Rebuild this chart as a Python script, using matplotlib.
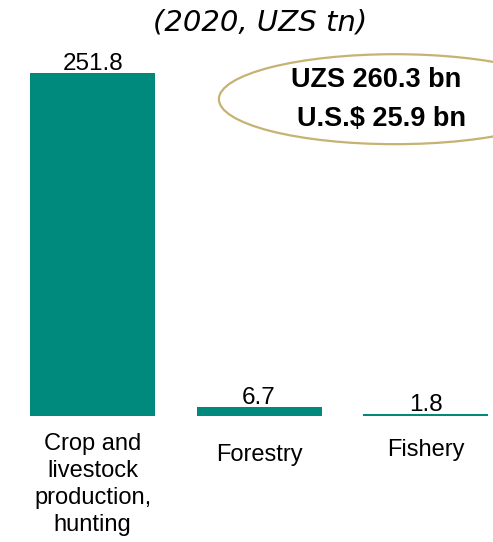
import matplotlib.pyplot as plt
from matplotlib.patches import Ellipse

categories = ["Crop and\nlivestock\nproduction,\nhunting", "Forestry", "Fishery"]
values = [251.8, 6.7, 1.8]
value_labels = ["251.8", "6.7", "1.8"]
title = "(2020, UZS tn)"
total_lines = ["UZS 260.3 bn", "U.S.$ 25.9 bn"]

BAR_COLOR = "#008A7D"
RING_COLOR = "#C6B272"

plt.rcParams["font.family"] = ["Liberation Sans", "DejaVu Sans"]

fig = plt.figure(figsize=(4.93, 5.42), dpi=100)
ax = fig.add_axes([0.0, 0.2325, 1.0, 0.7675])

x = list(range(len(categories)))
bars = ax.bar(x, values, width=0.75, color=BAR_COLOR)
ax.set_xlim(-0.556, 2.405)
ax.set_ylim(0, 305.5)

for bar, lab in zip(bars, value_labels):
    ax.annotate(lab, (bar.get_x() + bar.get_width() / 2, bar.get_height()),
                xytext=(0, 2), textcoords="offset points",
                ha="center", va="baseline", fontsize=17.5, color="black")

ax.set_xticks(x)
ax.set_xticklabels(categories, fontsize=17, linespacing=1.3)
ax.tick_params(axis="x", length=0, pad=12)
ax.set_yticks([])
for side in ax.spines.values():
    side.set_visible(False)

# small vertical shifts so single-line labels sit a bit lower
for lbl, dy in zip(ax.get_xticklabels(), [0.0, -0.028, -0.016]):
    lbl.set_y(dy)

fig.text(0.527, 0.959, title, ha="center", va="center", fontsize=21,
         style="italic", family=["DejaVu Sans"])

ring = Ellipse((0.801, 0.817), 0.714, 0.166, transform=fig.transFigure,
               fill=False, edgecolor=RING_COLOR, linewidth=1.6)
fig.add_artist(ring)
fig.text(0.763, 0.852, total_lines[0], ha="center", va="center",
         fontsize=19.5, fontweight="bold")
fig.text(0.773, 0.780, total_lines[1], ha="center", va="center",
         fontsize=19.5, fontweight="bold")

fig.savefig("out.png", dpi=100)
